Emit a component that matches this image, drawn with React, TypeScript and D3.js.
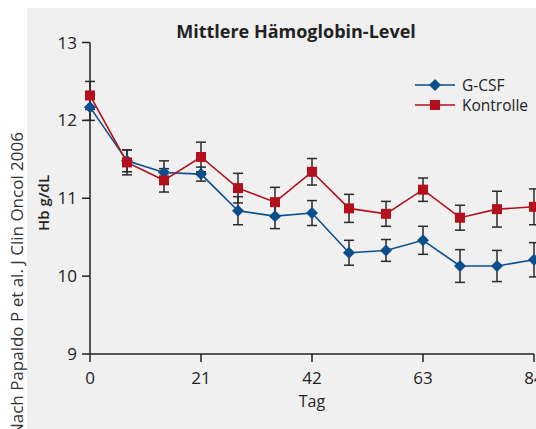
import React from "react";
import * as d3 from "d3";

const days = [0, 7, 14, 21, 28, 35, 42, 49, 56, 63, 70, 77, 84];
const gcsf = [12.17, 11.48, 11.33, 11.31, 10.84, 10.77, 10.81, 10.3, 10.33, 10.46, 10.13, 10.13, 10.21];
const gcsfErr = [0.17, 0.14, 0.15, 0.09, 0.18, 0.16, 0.16, 0.16, 0.14, 0.18, 0.21, 0.2, 0.22];
const kontrolle = [12.32, 11.46, 11.23, 11.53, 11.13, 10.95, 11.34, 10.87, 10.8, 11.11, 10.75, 10.86, 10.89];
const kontrolleErr = [0.18, 0.16, 0.15, 0.19, 0.19, 0.19, 0.17, 0.18, 0.16, 0.15, 0.16, 0.23, 0.23];
const xTicks = [0, 21, 42, 63, 84];
const yTicks = [9, 10, 11, 12, 13];
const seriesNames = ["G-CSF", "Kontrolle"];

const W = 536;
const H = 429;
const BLUE = "#0a4f8b";
const RED = "#b3101c";
const FONT = "'Open Sans', 'Noto Sans', sans-serif";

export default function App() {
  const x = d3.scaleLinear().domain([0, 84]).range([90, 534]);
  const y = d3.scaleLinear().domain([9, 13]).range([354, 42.5]);
  const line = d3
    .line<[number, number]>()
    .x((d) => x(d[0]))
    .y((d) => y(d[1]));

  const series = [
    { name: seriesNames[0], vals: gcsf, err: gcsfErr, color: BLUE, shape: "diamond" },
    { name: seriesNames[1], vals: kontrolle, err: kontrolleErr, color: RED, shape: "square" },
  ];

  const marker = (shape: string, cx: number, cy: number, color: string, key?: string) =>
    shape === "square" ? (
      <rect key={key} x={cx - 5} y={cy - 5} width={10} height={10} fill={color} />
    ) : (
      <path
        key={key}
        d={`M${cx},${cy - 6}L${cx + 6},${cy}L${cx},${cy + 6}L${cx - 6},${cy}Z`}
        fill={color}
      />
    );

  return (
    <svg
      width={W}
      height={H}
      style={{ position: "absolute", left: 0, top: 0 }}
      fontFamily={FONT}
    >
      <rect x={0} y={0} width={W} height={H} fill="#ffffff" />
      <rect x={27} y={8} width={W - 27} height={H - 8} fill="#f0f0f0" />

      {/* source text */}
      <text
        transform={`translate(23,132) rotate(-90)`}
        textAnchor="end"
        fontSize={17}
        fill="#333"
      >
        Nach Papaldo P et al. J Clin Oncol 2006
      </text>

      {/* title */}
      <text x={296} y={38} textAnchor="middle" fontSize={18} fontWeight="bold" fill="#222">
        Mittlere Hämoglobin-Level
      </text>

      {/* y axis */}
      <line x1={x(0)} x2={x(0)} y1={y(13)} y2={y(9)} stroke="#222" strokeWidth={1.5} />
      {yTicks.map((t) => (
        <g key={"y" + t}>
          <line x1={x(0) - 8} x2={x(0)} y1={y(t)} y2={y(t)} stroke="#222" strokeWidth={1.5} />
          <text x={77} y={y(t) + 6} textAnchor="end" fontSize={17} fill="#222">
            {t}
          </text>
        </g>
      ))}
      <text
        transform={`translate(49,${203}) rotate(-90)`}
        textAnchor="middle"
        fontSize={15}
        fontWeight={600}
        fill="#222"
      >
        Hb g/dL
      </text>

      {/* x axis */}
      <line x1={x(0)} x2={x(84)} y1={y(9)} y2={y(9)} stroke="#222" strokeWidth={1.5} />
      {xTicks.map((t) => (
        <g key={"x" + t}>
          <line x1={x(t)} x2={x(t)} y1={y(9)} y2={y(9) + 8} stroke="#222" strokeWidth={1.5} />
          <text x={x(t)} y={384} textAnchor="middle" fontSize={17} fill="#222">
            {t}
          </text>
        </g>
      ))}
      <text x={312} y={407} textAnchor="middle" fontSize={16} fill="#222">
        Tag
      </text>

      {/* error bars */}
      {series.map((s) =>
        s.vals.map((v, i) => {
          const cx = x(days[i]);
          const top = y(v + s.err[i]);
          const bot = y(v - s.err[i]);
          return (
            <g key={s.name + "e" + i} stroke="#2a2a2a" strokeWidth={1.5}>
              <line x1={cx} x2={cx} y1={top} y2={bot} />
              <line x1={cx - 5} x2={cx + 5} y1={top} y2={top} />
              <line x1={cx - 5} x2={cx + 5} y1={bot} y2={bot} />
            </g>
          );
        })
      )}

      {/* lines and markers */}
      {series.map((s) => (
        <g key={s.name}>
          <path
            d={line(days.map((d, i) => [d, s.vals[i]] as [number, number])) || ""}
            fill="none"
            stroke={s.color}
            strokeWidth={1.6}
          />
          {s.vals.map((v, i) => marker(s.shape, x(days[i]), y(v), s.color, s.name + i))}
        </g>
      ))}

      {/* legend */}
      {series.map((s, i) => {
        const ly = 85 + i * 20;
        return (
          <g key={"leg" + i}>
            <line x1={415} x2={455} y1={ly} y2={ly} stroke={s.color} strokeWidth={1.6} />
            {marker(s.shape, 435, ly, s.color)}
            <text x={462} y={ly + 5.5} fontSize={15.5} fill="#222">
              {s.name}
            </text>
          </g>
        );
      })}
    </svg>
  );
}
